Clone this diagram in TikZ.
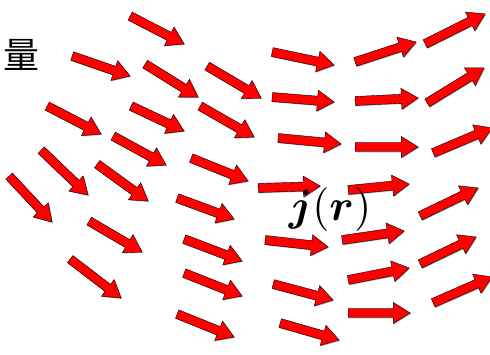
\documentclass[tikz,border=0pt]{standalone}
\usepackage{amsmath}
\usepackage{fontspec}
\newfontfamily\cjkfont{Noto Sans CJK SC}
\usetikzlibrary{shapes.arrows,shadows,calc}

\begin{document}
\begin{tikzpicture}[x=1pt, y=-1pt]
    \tikzset{fieldvec/.style = {single arrow, draw=black, thin, fill=red,
        minimum width=21pt, single arrow head extend=6pt,
        single arrow tip angle=64, inner sep=4.3pt, anchor=tail,
        drop shadow={shadow xshift=0.8pt, shadow yshift=-0.8pt, fill=black!60, opacity=0.5}}}
    \useasboundingbox (0,0) rectangle (490,355);
    % current density field, tail/tip in pixel units
    \foreach \t/\h [count=\i] in {
        {130,16}/{184,44}, {72,56}/{130,76}, {145,64}/{198,97}, {207,66}/{261,98},
        {47,106}/{101,134}, {131,106}/{184,131}, {200,106}/{254,137},
        {113,136}/{166,165}, {191,158}/{248,181}, {9,176}/{52,222},
        {41,150}/{88,195}, {97,164}/{148,201}, {177,198}/{234,219},
        {89,221}/{142,252}, {184,239}/{242,261}, {70,259}/{121,298},
        {184,273}/{242,296}, {177,314}/{234,337},
        {272,52}/{334,65}, {355,62}/{416,42}, {425,44}/{485,14},
        {272,97}/{334,102}, {355,101}/{418,98}, {427,103}/{484,68},
        {278,138}/{341,144}, {355,147}/{418,147}, {433,153}/{492,128},
        {258,188}/{320,186}, {348,190}/{409,184}, {420,216}/{478,188},
        {265,240}/{328,247}, {342,240}/{404,231}, {420,264}/{476,237},
        {273,284}/{333,300}, {348,280}/{409,268}, {433,303}/{492,277},
        {280,323}/{339,340}, {348,313}/{410,313}}
    {
        \path let \p1=(\h), \p2=(\t), \n1={atan2(\y1-\y2,\x1-\x2)},
            \n2={veclen(\x1-\x2,\y1-\y2)} in
            node[fieldvec, rotate=\n1, minimum height=\n2] (v\i) at (\t) {};
    }
    \node[scale=4.4] (jr) at (330,210) {$\boldsymbol{j}(\boldsymbol{r})$};
    \node[anchor=west, inner sep=0pt] (liang) at (3,55) {\cjkfont\fontsize{36}{40}\selectfont 量};
\end{tikzpicture}
\end{document}
